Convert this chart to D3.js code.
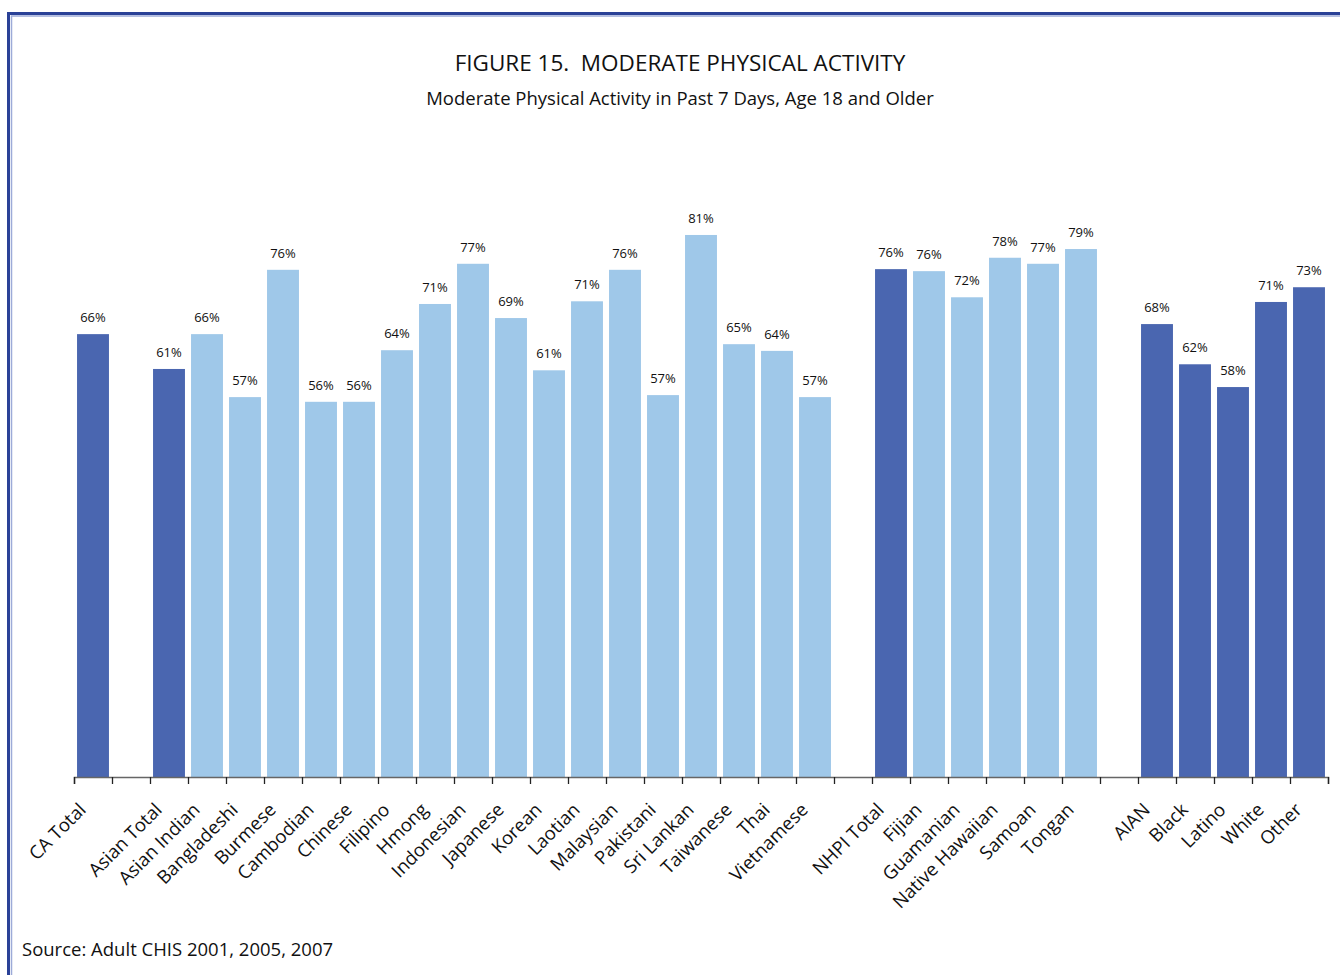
<!DOCTYPE html>
<html lang="en">
    <head>
        <meta charset="utf-8">
        <title>Moderate Physical Activity</title>
        <script type="text/javascript" src="https://cdn.jsdelivr.net/npm/d3@7"></script>
        <style type="text/css">
            body { margin: 0; background: #fff; }
            text { font-family: "Open Sans", "Noto Sans", sans-serif; fill: #111; }
        </style>
    </head>
    <body>
        <script type="text/javascript">

            //Width and height
            var w = 1340;
            var h = 975;

            // categories, "gap" entries are the empty slots between groups
            var categories = ["CA Total", "gap1", "Asian Total", "Asian Indian", "Bangladeshi", "Burmese",
                "Cambodian", "Chinese", "Filipino", "Hmong", "Indonesian", "Japanese", "Korean", "Laotian",
                "Malaysian", "Pakistani", "Sri Lankan", "Taiwanese", "Thai", "Vietnamese", "gap2",
                "NHPI Total", "Fijian", "Guamanian", "Native Hawaiian", "Samoan", "Tongan", "gap3",
                "AIAN", "Black", "Latino", "White", "Other"];

            var names = ["CA Total", "Asian Total", "Asian Indian", "Bangladeshi", "Burmese",
                "Cambodian", "Chinese", "Filipino", "Hmong", "Indonesian", "Japanese", "Korean", "Laotian",
                "Malaysian", "Pakistani", "Sri Lankan", "Taiwanese", "Thai", "Vietnamese",
                "NHPI Total", "Fijian", "Guamanian", "Native Hawaiian", "Samoan", "Tongan",
                "AIAN", "Black", "Latino", "White", "Other"];

            var values = [66.1, 60.9, 66.1, 56.7, 75.7, 56.0, 56.0, 63.7, 70.6, 76.6, 68.5, 60.7, 71.0,
                75.7, 57.0, 80.9, 64.6, 63.6, 56.7, 75.8, 75.5, 71.6, 77.5, 76.6, 78.8, 67.6, 61.6, 58.2, 70.9, 73.1];

            // dark = totals and other races, light = subgroups
            var totals = ["CA Total", "Asian Total", "NHPI Total", "AIAN", "Black", "Latino", "White", "Other"];

            var dataset = names.map(function(n, i) { return { name: n, value: values[i] }; });

            var svg = d3.select("body")
                        .append("svg")
                        .attr("width", w)
                        .attr("height", h);

            // double frame
            svg.append("rect")
               .attr("x", 8.5).attr("y", 13.5)
               .attr("width", 1400).attr("height", 1000)
               .attr("fill", "none")
               .attr("stroke", "#2a4197")
               .attr("stroke-width", 3);
            svg.append("rect")
               .attr("x", 11.5).attr("y", 16)
               .attr("width", 1400).attr("height", 1000)
               .attr("fill", "none")
               .attr("stroke", "#9dabd8")
               .attr("stroke-width", 1.5);

            var x0 = 74, x1 = 1328;
            var baseY = 777;

            var x = d3.scaleBand()
                      .domain(categories)
                      .range([x0, x1])
                      .paddingInner(0.16)
                      .paddingOuter(0.08);

            var y = d3.scaleLinear()
                      .domain([0, 100])
                      .range([baseY, 107]);

            // ticks sit on the slot boundaries
            var xb = d3.scaleLinear()
                       .domain([0, categories.length])
                       .range([x0, x1]);

            svg.selectAll("rect.bar")
               .data(dataset)
               .enter()
               .append("rect")
               .attr("class", "bar")
               .attr("x", function(d) { return x(d.name); })
               .attr("y", function(d) { return y(d.value); })
               .attr("width", x.bandwidth())
               .attr("height", function(d) { return baseY - y(d.value); })
               .attr("fill", function(d) {
                   return totals.indexOf(d.name) >= 0 ? "#4a66b0" : "#9fc8e9";
               });

            svg.selectAll("text.val")
               .data(dataset)
               .enter()
               .append("text")
               .attr("class", "val")
               .attr("x", function(d) { return x(d.name) + x.bandwidth() / 2; })
               .attr("y", function(d) { return y(d.value) - 12; })
               .attr("text-anchor", "middle")
               .attr("font-size", "13px")
               .text(function(d) { return Math.round(d.value) + "%"; });

            var axis = d3.axisBottom(xb)
                         .tickValues(d3.range(categories.length + 1))
                         .tickSize(7)
                         .tickFormat("");

            var ax = svg.append("g")
                        .attr("transform", "translate(0," + baseY + ")")
                        .call(axis);
            ax.select(".domain").attr("stroke", "#666").attr("stroke-width", 1.5);
            ax.selectAll(".tick line").attr("stroke", "#222").attr("stroke-width", 1.3);

            svg.selectAll("text.cat")
               .data(names)
               .enter()
               .append("text")
               .attr("class", "cat")
               .attr("text-anchor", "end")
               .attr("font-size", "18.5px")
               .attr("transform", function(d) {
                   var cx = x(d) + x.bandwidth() / 2;
                   return "translate(" + (cx - 6) + "," + (811) + ") rotate(-45)";
               })
               .text(function(d) { return d; });

            svg.append("text")
               .text("FIGURE 15.  MODERATE PHYSICAL ACTIVITY")
               .attr("x", 680)
               .attr("y", 71)
               .attr("text-anchor", "middle")
               .attr("font-size", "22.5px")
               .style("white-space", "pre");

            svg.append("text")
               .text("Moderate Physical Activity in Past 7 Days, Age 18 and Older")
               .attr("x", 680)
               .attr("y", 105)
               .attr("text-anchor", "middle")
               .attr("font-size", "18.5px");

            svg.append("text")
               .text("Source: Adult CHIS 2001, 2005, 2007")
               .attr("x", 22)
               .attr("y", 956)
               .attr("font-size", "18.5px");

        </script>
    </body>
</html>
